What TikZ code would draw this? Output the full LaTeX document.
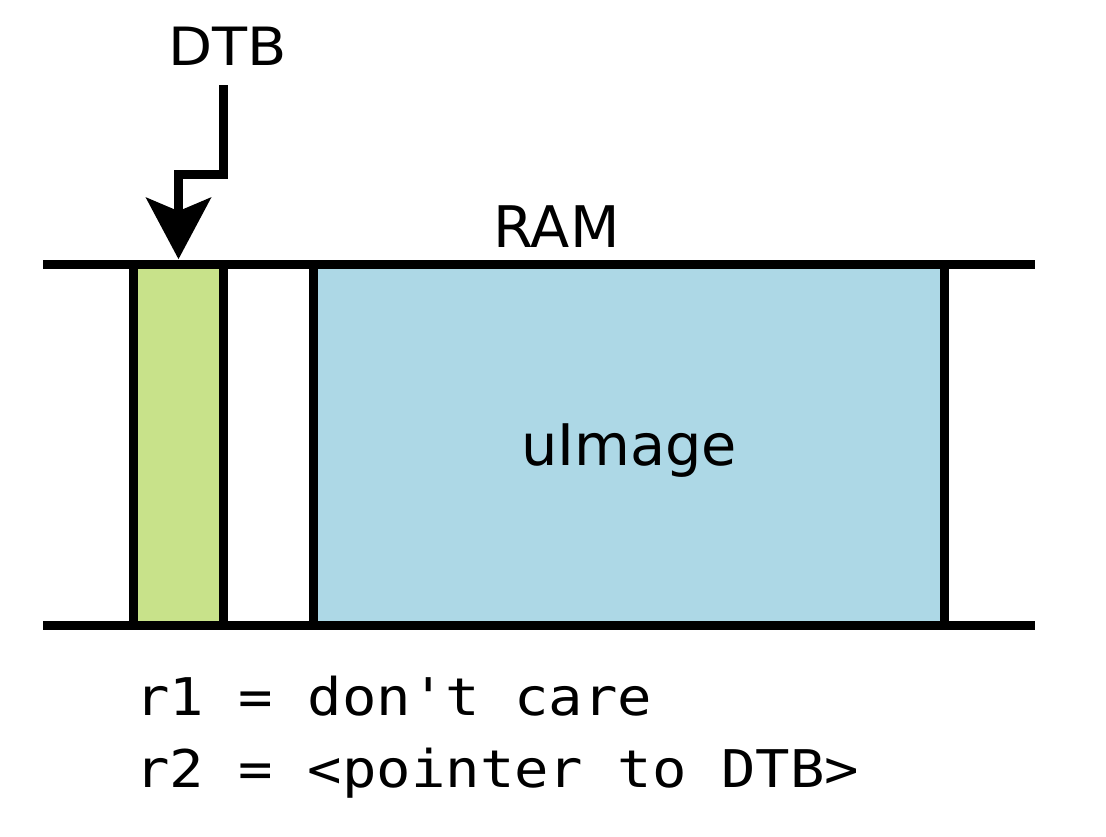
\documentclass[tikz,border=0pt]{standalone}
\usepackage{fontspec}
\setmainfont{DejaVu Sans}
\setmonofont{DejaVu Sans Mono}
\usetikzlibrary{arrows.meta}
\definecolor{dtbgreen}{RGB}{200,226,138}
\definecolor{imgblue}{RGB}{173,216,230}
\begin{document}
\begin{tikzpicture}[x=0.75pt,y=-0.75pt,line width=6.75pt,
  block/.style={draw=black,inner sep=0pt,minimum width=#1,minimum height=270.75pt},
  lbl/.style={inner sep=0pt,anchor=base,font=\fontsize{43}{50}\selectfont},
  code/.style={inner sep=0pt,anchor=base west,font=\ttfamily\fontsize{41}{48}\selectfont},
  ptr/.style={miter limit=10,-{Stealth[length=46.5pt,width=49.5pt,inset=10.5pt,line width=0pt]}}]
\useasboundingbox (0,0) rectangle (1106,836);
% memory blocks
\node[block=67.5pt,fill=dtbgreen] (dtb) at (178.5,444.5) {};
\node[block=473.25pt,fill=imgblue] (img) at (629,444.5) {};
% RAM boundaries
\coordinate (topL) at (43,264);
\coordinate (topR) at (1035,264);
\coordinate (botL) at (43,625);
\coordinate (botR) at (1035,625);
\draw (topL) -- (topR);
\draw (botL) -- (botR);
% labels
\node[lbl] (dtblbl) at (228,65) {\scalebox{1}[0.92]{DTB}};
\node[lbl] (ram) at (556.5,247) {RAM};
\node[lbl] (uimg) at (629,465) {uImage};
% pointer
\coordinate (src) at (223,85);
\draw[ptr] (src) |- (178.5,174) -- ([yshift=0.3pt]dtb.north);
% register notes
\node[code] (reg1) at (131,715) {\scalebox{1.047}[0.95]{r1 = don't care}};
\node[code] (reg2) at (131,787) {\scalebox{1.047}[0.95]{r2 = <pointer to DTB>}};
\end{tikzpicture}
\end{document}
